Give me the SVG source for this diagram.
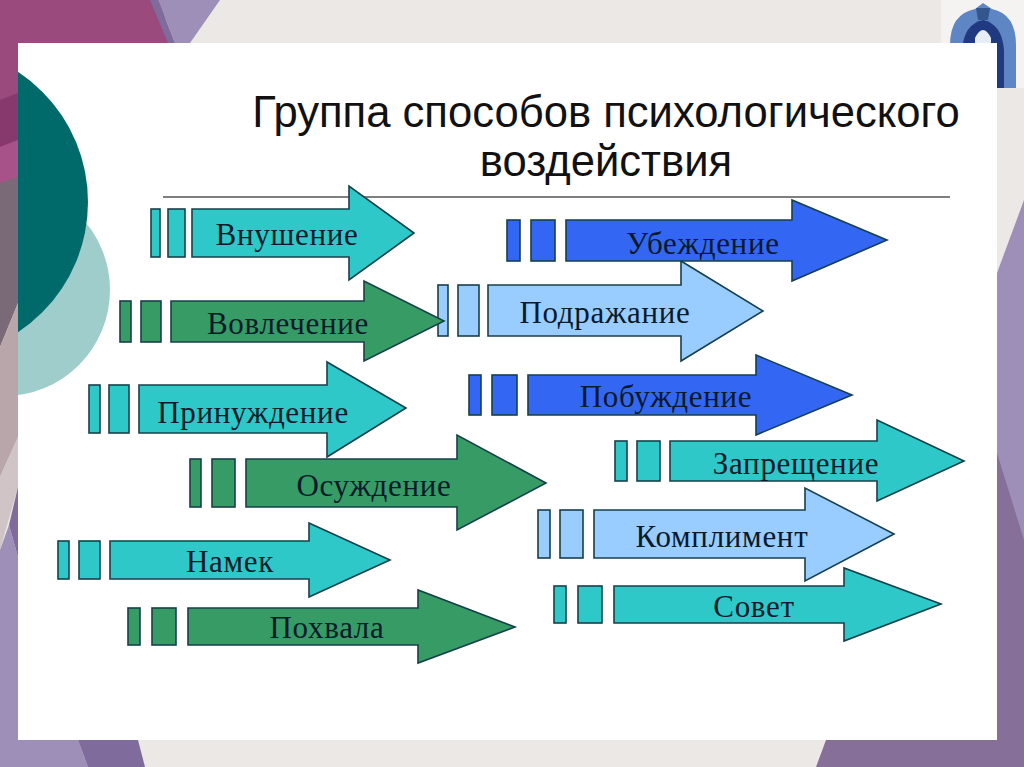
<svg xmlns="http://www.w3.org/2000/svg" width="1024" height="767" viewBox="0 0 1024 767">
<style>
.t{font-family:"Liberation Serif","Times New Roman",serif;font-size:31px;fill:#0a1a2a;text-anchor:middle;letter-spacing:.7px}
.h{font-family:"Liberation Sans",Arial,sans-serif;font-size:43.6px;fill:#111;text-anchor:middle}
.a path,.a rect{stroke:#17404a;stroke-width:1.6}
.c path,.c rect{fill:#2fc8c8}.g path,.g rect{fill:#379b66}.b path,.b rect{fill:#3366f2}.l path,.l rect{fill:#99ccff}
</style>
<defs><clipPath id="p"><rect x="18" y="43" width="979" height="697"/></clipPath></defs>
<rect width="1024" height="767" fill="#ece8e6"/>
<g id="background">
<path d="M0 0H160L172 43H18V185H0Z" fill="#9a4a7c"/>
<path d="M0 100L18 93V140L0 147Z" fill="#87386c"/>
<path d="M0 147L18 140V177L0 185Z" fill="#a8528a"/>
<path d="M0 183L18 177V303L0 347Z" fill="#7a6a78"/>
<path d="M0 347L18 303V437L0 477Z" fill="#b8a6aa"/>
<path d="M0 477L18 437V487L0 550Z" fill="#d0c4c6"/>
<path d="M0 550L9 525L18 557V767H0Z" fill="#9d8fb8"/>
<path d="M9 525L18 487V557Z" fill="#7f6c9c"/>
<path d="M158 0H220L190 43H175Z" fill="#9d8fb8"/>
<path d="M150 0H158L175 43H168Z" fill="#7f6c9c"/>
<path d="M0 740H78L88 767H0Z" fill="#9d8fb8"/>
<path d="M78 740H138L145 767H88Z" fill="#7f6c9c"/>
<path d="M826 740H1024V767H816Z" fill="#86709a"/>
<path d="M997 273L1024 200V767H997Z" fill="#9d8fb8"/>
<path d="M997 453L1024 540V767H997Z" fill="#86709a"/>
<rect x="941" width="83" height="88" fill="#f4f3f2"/>
<path d="M950 88V45Q950 14 975 9L983 3L992 9Q1016 14 1016 45V88Z" fill="#5f86c4"/>
<path d="M962 88V50Q964 24 983 20Q1002 24 1004 50V88Z" fill="#1f3a80"/>
<path d="M975 43V38Q983 22 991 38V43Z" fill="#e8ecf4"/>
<path d="M976 8H990L988 20H978Z" fill="#34568f"/>
<rect x="18" y="43" width="979" height="697" fill="#fff"/>
<circle cx="4" cy="290" r="106" fill="#9ecdcc" clip-path="url(#p)"/>
<circle cx="-68" cy="202" r="156" fill="#00696a" clip-path="url(#p)"/>
</g>
<g id="title">
<text class="h" x="606" y="127">Группа способов психологического</text>
<text class="h" x="606" y="176">воздействия</text>
<path d="M163 197H950" stroke="#555" stroke-width="1.3"/>
</g>
<g id="connectors"></g>
<g id="n-podrazhanie" class="a l"><rect x="438" y="285" width="10" height="51"/><rect x="458" y="285" width="21" height="51"/><path d="M488 285H681V261L763 311L681 361V336H488Z"/><text class="t" x="605" y="323">Подражание</text></g>
<g id="n-vnushenie" class="a c"><rect x="151" y="209" width="9" height="48"/><rect x="168" y="209" width="17" height="48"/><path d="M192 209H349V186L414 233L349 280V257H192Z"/><text class="t" x="287" y="245">Внушение</text></g>
<g id="n-ubezhdenie" class="a b"><rect x="507" y="220" width="13" height="41"/><rect x="531" y="220" width="24" height="41"/><path d="M566 220H792V200L887 240L792 281V261H566Z"/><text class="t" x="703" y="254">Убеждение</text></g>
<g id="n-vovlechenie" class="a g"><rect x="120" y="301" width="11" height="41"/><rect x="141" y="301" width="20" height="41"/><path d="M171 301H364V281L444 321L364 361V342H171Z"/><text class="t" x="288" y="334">Вовлечение</text></g>
<g id="n-pobuzhdenie" class="a b"><rect x="469" y="375" width="12" height="40"/><rect x="492" y="375" width="25" height="40"/><path d="M528 375H756V355L852 395L756 435V415H528Z"/><text class="t" x="666" y="407">Побуждение</text></g>
<g id="n-prinuzhdenie" class="a c"><rect x="89" y="385" width="11" height="48"/><rect x="109" y="385" width="20" height="48"/><path d="M139 385H327V362L406 408L327 457V433H139Z"/><text class="t" x="253" y="423">Принуждение</text></g>
<g id="n-zapreshchenie" class="a c"><rect x="615" y="441" width="12" height="40"/><rect x="637" y="441" width="23" height="40"/><path d="M670 441H877V420L964 461L877 501V481H670Z"/><text class="t" x="796" y="474">Запрещение</text></g>
<g id="n-osuzhdenie" class="a g"><rect x="190" y="459" width="11" height="48"/><rect x="212" y="459" width="23" height="48"/><path d="M246 459H457V435L546 483L457 530V507H246Z"/><text class="t" x="374" y="496">Осуждение</text></g>
<g id="n-kompliment" class="a l"><rect x="538" y="510" width="12" height="48"/><rect x="560" y="510" width="23" height="48"/><path d="M594 510H805V488L894 534L805 581V558H594Z"/><text class="t" x="722" y="547">Комплимент</text></g>
<g id="n-namek" class="a c"><rect x="58" y="541" width="11" height="38"/><rect x="79" y="541" width="21" height="38"/><path d="M110 541H309V523L390 560L309 597V579H110Z"/><text class="t" x="230" y="572">Намек</text></g>
<g id="n-sovet" class="a c"><rect x="554" y="586" width="12" height="37"/><rect x="578" y="586" width="24" height="37"/><path d="M614 586H844V568L941 604L844 641V623H614Z"/><text class="t" x="754" y="617">Совет</text></g>
<g id="n-pokhvala" class="a g"><rect x="128" y="608" width="12" height="37"/><rect x="152" y="608" width="24" height="37"/><path d="M188 608H418V590L515 627L418 663V645H188Z"/><text class="t" x="327" y="638">Похвала</text></g>
</svg>
